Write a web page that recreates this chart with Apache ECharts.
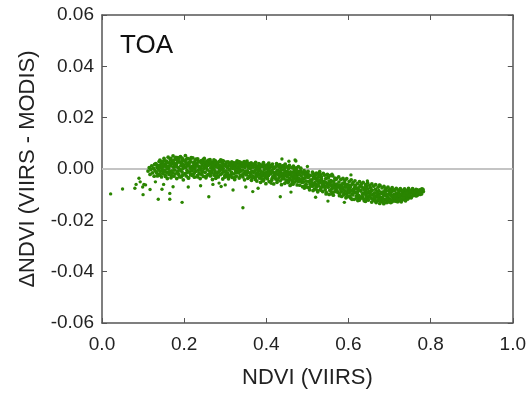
<!DOCTYPE html>
<html>
<head>
<meta charset="utf-8">
<script src="https://cdn.jsdelivr.net/npm/echarts@6/dist/echarts.min.js"></script>
<style>
  html, body { margin: 0; padding: 0; background: #fff; }
  #main { width: 529px; height: 395px; }
</style>
</head>
<body>
<div id="main"></div>
<script>
  // NDVI (VIIRS) vs delta NDVI, main cloud (left part)
  var bandLeft = [
    [0.112,-0.0008],[0.115,0.0005],[0.117,-0.0021],[0.119,-0.0002],
    [0.121,0.0012],[0.123,-0.0015],[0.125,0.0003],[0.127,-0.0028],[0.128,0.0018],[0.129,-0.0006],
    [0.131,0.0021],[0.132,-0.0012],[0.134,0.0006],[0.135,-0.0027],[0.137,0.0013],[0.138,-0.0003],[0.139,0.0029],
    [0.141,0.0034],[0.142,-0.0009],[0.143,0.0017],[0.145,-0.0031],[0.146,0.0002],[0.147,0.0026],[0.148,-0.0018],[0.149,0.0009],
    [0.151,0.0041],[0.152,-0.0005],[0.153,0.0019],[0.154,-0.0024],[0.156,0.0008],[0.157,0.0031],[0.158,-0.0013],[0.159,-0.0037],[0.155,0.0014],
    [0.161,0.0046],[0.162,0.0003],[0.163,-0.0021],[0.164,0.0025],[0.165,-0.0008],[0.166,0.0037],[0.167,0.0012],[0.168,-0.0034],[0.169,0.0019],
    [0.171,0.0029],[0.172,-0.0015],[0.173,0.0051],[0.174,0.0007],[0.175,-0.0028],[0.176,0.0022],[0.177,-0.0004],[0.178,0.0039],[0.179,0.0011],
    [0.181,0.0016],[0.182,-0.0037],[0.183,0.0034],[0.184,-0.0009],[0.185,0.0044],[0.186,0.0005],[0.187,-0.0022],[0.188,0.0027],[0.189,-0.0002],
    [0.191,0.0048],[0.192,0.0013],[0.193,-0.0031],[0.194,0.0021],[0.195,-0.0012],[0.196,0.0036],[0.197,0.0002],[0.198,-0.0042],[0.199,0.0009],
    [0.201,0.0031],[0.202,-0.0018],[0.203,0.0052],[0.204,0.0006],[0.205,-0.0027],[0.206,0.0024],[0.207,-0.0005],[0.208,0.0041],[0.209,0.0014],
    [0.211,-0.0035],[0.212,0.0019],[0.213,-0.0011],[0.214,0.0038],[0.215,0.0003],[0.216,-0.0023],[0.217,0.0028],[0.218,0.0009],[0.219,-0.0006],
    [0.221,0.0043],[0.222,0.0012],[0.223,-0.0019],[0.224,0.0025],[0.225,-0.0032],[0.226,0.0001],[0.227,0.0034],[0.228,-0.0009],[0.229,0.0017],
    [0.231,0.0022],[0.232,-0.0026],[0.233,0.0039],[0.234,-0.0004],[0.235,0.0011],[0.236,-0.0015],[0.237,0.0028],[0.238,0.0005],[0.239,-0.0037],
    [0.241,0.0008],[0.242,0.0033],[0.243,-0.0021],[0.244,0.0016],[0.245,-0.0008],[0.246,0.0026],[0.247,-0.0029],[0.248,0.0002],[0.249,0.0041],
    [0.251,-0.0013],[0.252,0.0021],[0.253,-0.0034],[0.254,0.0006],[0.255,0.0031],[0.256,-0.0003],[0.257,0.0014],[0.258,-0.0022],[0.259,0.0025],
    [0.261,0.0017],[0.262,-0.0009],[0.263,0.0036],[0.264,-0.0027],[0.265,0.0004],[0.266,0.0022],[0.267,-0.0016],[0.268,0.0011],[0.269,-0.0041],
    [0.271,0.0028],[0.272,0.0001],[0.273,-0.0024],[0.274,0.0015],[0.275,-0.0007],[0.276,0.0032],[0.277,-0.0036],[0.278,0.0008],[0.279,0.0019],
    [0.281,-0.0014],[0.282,0.0024],[0.283,-0.0031],[0.284,0.0005],[0.285,0.0029],[0.286,-0.0005],[0.287,0.0013],[0.288,-0.0022],[0.289,0.0035],
    [0.291,0.0009],[0.292,-0.0018],[0.293,0.0022],[0.294,-0.0039],[0.295,0.0002],[0.296,0.0031],[0.297,-0.0011],[0.298,0.0016],[0.299,-0.0026],
    [0.301,0.0019],[0.302,-0.0007],[0.303,0.0027],[0.304,-0.0029],[0.305,0.0006],[0.306,-0.0016],[0.307,0.0012],[0.308,-0.0038],[0.309,0.0023],
    [0.311,-0.0003],[0.312,0.0021],[0.313,-0.0024],[0.314,0.0009],[0.315,-0.0012],[0.316,0.0028],[0.317,-0.0033],[0.318,0.0003],[0.319,0.0015],
    [0.321,-0.0019],[0.322,0.0011],[0.323,-0.0041],[0.324,0.0024],[0.325,-0.0006],[0.326,0.0017],[0.327,-0.0028],[0.328,0.0004],[0.329,0.0026],
    [0.331,0.0008],[0.332,-0.0015],[0.333,0.0019],[0.334,-0.0035],[0.335,0.0001],[0.336,0.0027],[0.337,-0.0009],[0.338,0.0013],[0.339,-0.0024],
    [0.341,0.0022],[0.342,-0.0004],[0.343,-0.0031],[0.344,0.0012],[0.345,-0.0017],[0.346,0.0029],[0.347,-0.0042],[0.348,0.0006],[0.349,-0.0011],
    [0.351,0.0015],[0.352,-0.0023],[0.353,0.0031],[0.354,-0.0007],[0.355,-0.0036],[0.356,0.0009],[0.357,-0.0014],[0.358,0.0021],[0.359,-0.0029],
    [0.361,0.0003],[0.362,-0.0019],[0.363,0.0024],[0.364,-0.0044],[0.365,-0.0008],[0.366,0.0013],[0.367,-0.0027],[0.368,0.0007],[0.369,-0.0013],
    [0.371,0.0018],[0.372,-0.0032],[0.373,-0.0004],[0.374,0.0026],[0.375,-0.0021],[0.376,0.0002],[0.377,-0.0047],[0.378,0.0011],[0.379,-0.0015],
    [0.381,-0.0006],[0.382,0.0021],[0.383,-0.0035],[0.384,0.0005],[0.385,-0.0019],[0.386,-0.0052],[0.387,0.0014],[0.388,-0.0011],[0.389,-0.0028],
    [0.391,0.0009],[0.392,-0.0024],[0.393,0.0025],[0.394,-0.0041],[0.395,-0.0003],[0.396,-0.0016],[0.397,0.0012],[0.398,-0.0033],[0.399,-0.0057],
    [0.401,-0.0012],[0.402,0.0016],[0.403,-0.0038],[0.404,-0.0002],[0.405,-0.0025],[0.406,0.0023],[0.407,-0.0049],[0.408,-0.0008],[0.409,0.0004],
    [0.411,-0.0019],[0.412,0.0011],[0.413,-0.0044],[0.414,-0.0006],[0.415,0.0019],[0.416,-0.0031],[0.417,-0.0013],[0.418,-0.0058],[0.419,0.0003],
    [0.421,-0.0027],[0.422,0.0008],[0.423,-0.0039],[0.424,-0.0011],[0.425,0.0021],[0.426,-0.0052],[0.427,-0.0004],[0.428,-0.0021],[0.429,0.0014],
    [0.431,-0.0033],[0.432,-0.0008],[0.433,0.0017],[0.434,-0.0046],[0.435,-0.0015],[0.436,0.0004],[0.437,-0.0061],[0.438,-0.0024],[0.439,0.0011],
    [0.441,-0.0018],[0.442,0.0013],[0.443,-0.0037],[0.444,-0.0005],[0.445,-0.0056],[0.446,0.0019],[0.447,-0.0026],[0.448,-0.0012],[0.449,-0.0043],
    [0.451,-0.0009],[0.452,-0.0031],[0.453,0.0008],[0.454,-0.0049],[0.455,-0.0017],[0.456,0.0014],[0.457,-0.0038],[0.458,-0.0064],[0.459,-0.0022],
    [0.461,-0.0028],[0.462,0.0005],[0.463,-0.0045],[0.464,-0.0013],[0.465,-0.0059],[0.466,0.0011],[0.467,-0.0034],[0.468,-0.0007],[0.469,-0.0051],
    [0.471,-0.0017],[0.472,-0.0041],[0.473,0.0004],[0.474,-0.0026],[0.475,-0.0062],[0.476,-0.0009],[0.477,-0.0035],[0.478,0.0009],[0.479,-0.0048]
  ];

  // extra points filling the dense left core
  var bandLeftFill = [
    [0.1336,-0.0016],[0.1372,0.0009],[0.1318,0.0017],[0.1394,-0.0021],
    [0.1427,0.0006],[0.1455,0.0029],[0.1481,-0.0007],[0.1412,-0.0024],[0.1468,0.0015],
    [0.1534,-0.0011],[0.1573,0.0024],[0.1516,0.0033],[0.1589,0.0001],[0.1547,-0.0029],
    [0.1618,0.0011],[0.1643,-0.0014],[0.1676,0.0041],[0.1659,0.0019],[0.1695,-0.0026],
    [0.1706,-0.0007],[0.1738,0.0033],[0.1764,0.0015],[0.1782,-0.0019],[0.1797,0.0045],
    [0.1823,0.0023],[0.1847,-0.0015],[0.1869,0.0038],[0.1808,0.0009],[0.1891,-0.0031],
    [0.1917,-0.0005],[0.1938,0.0029],[0.1965,-0.0024],[0.1984,0.0017],[0.1952,0.0042],
    [0.2016,0.0008],[0.2043,0.0036],[0.2074,-0.0013],[0.2058,0.0019],[0.2097,-0.0034],
    [0.2125,0.0027],[0.2149,-0.0018],[0.2171,0.0044],[0.2108,0.0012],[0.2193,-0.0002],
    [0.2204,-0.0025],[0.2237,0.0021],[0.2263,0.0007],[0.2288,0.0038],[0.2251,-0.0014],
    [0.2316,0.0013],[0.2345,0.0031],[0.2372,-0.0019],[0.2397,0.0004],[0.2329,-0.0031],
    [0.2418,0.0024],[0.2443,-0.0012],[0.2469,0.0037],[0.2487,0.0011],[0.2405,-0.0004],
    [0.2526,0.0009],[0.2548,-0.0027],[0.2573,0.0017],[0.2595,0.0034],[0.2512,0.0026],
    [0.2617,-0.0021],[0.2639,0.0029],[0.2658,0.0008],[0.2684,-0.0005],[0.2696,0.0019],
    [0.2713,0.0013],[0.2746,-0.0016],[0.2768,0.0024],[0.2789,-0.0029],[0.2725,0.0035],
    [0.2827,0.0017],[0.2854,-0.0009],[0.2876,0.0031],[0.2892,0.0002],[0.2809,-0.0026],
    [0.2918,0.0026],[0.2941,-0.0006],[0.2963,0.0014],[0.2987,-0.0032],[0.2935,0.0033],
    [0.3024,0.0011],[0.3047,-0.0021],[0.3069,0.0028],[0.3092,-0.0003],[0.3013,-0.0013],
    [0.3128,0.0016],[0.3151,-0.0019],[0.3174,0.0006],[0.3196,0.0024],[0.3107,-0.0028],
    [0.3219,0.0003],[0.3246,0.0021],[0.3263,-0.0014],[0.3288,0.0032],[0.3234,-0.0033],
    [0.3314,-0.0005],[0.3342,0.0015],[0.3367,-0.0026],[0.3393,0.0023],[0.3328,0.0029],
    [0.3417,0.0009],[0.3438,-0.0021],[0.3461,0.0017],[0.3486,-0.0008],[0.3499,0.0025],
    [0.3526,-0.0012],[0.3549,0.0022],[0.3573,0.0004],[0.3591,-0.0032],[0.3508,-0.0019],
    [0.3615,0.0017],[0.3643,-0.0011],[0.3666,-0.0034],[0.3687,0.0019],[0.3624,0.0008],
    [0.3719,-0.0009],[0.3745,0.0013],[0.3768,-0.0028],[0.3791,0.0004],[0.3736,-0.0041],
    [0.3813,0.0008],[0.3838,-0.0023],[0.3864,0.0016],[0.3889,-0.0039],[0.3847,-0.0005],
    [0.3916,-0.0013],[0.3939,0.0018],[0.3962,-0.0028],[0.3987,0.0003],[0.3928,-0.0046],
    [0.4024,-0.0031],[0.4051,0.0008],[0.4073,-0.0017],[0.4096,0.0013],[0.4012,-0.0022],
    [0.4118,-0.0009],[0.4143,-0.0036],[0.4169,0.0006],[0.4188,-0.0024],[0.4132,0.0014],
    [0.4227,-0.0016],[0.4254,0.0012],[0.4276,-0.0042],[0.4298,-0.0008],[0.4212,-0.0031],
    [0.4319,0.0007],[0.4346,-0.0027],[0.4368,-0.0004],[0.4391,-0.0038],[0.4332,-0.0019],
    [0.4418,-0.0031],[0.4437,0.0004],[0.4459,-0.0018],[0.4483,-0.0047],[0.4497,0.0008],
    [0.4516,-0.0024],[0.4538,0.0002],[0.4564,-0.0042],[0.4587,-0.0011],[0.4529,-0.0053],
    [0.4618,-0.0017],[0.4646,-0.0039],[0.4669,0.0003],[0.4688,-0.0024],[0.4627,-0.0056],
    [0.4712,-0.0031],[0.4738,-0.0006],[0.4759,-0.0047],[0.4783,-0.0019],[0.4797,-0.0038]
  ];

  // right part of the cloud, sloping down towards NDVI 0.78
  var bandRight = [
    [0.4803,-0.0021],[0.4867,-0.0052],[0.4832,-0.0008],[0.4891,-0.0036],[0.4815,-0.0063],[0.4849,-0.0027],[0.4878,-0.0014],[0.4826,-0.0045],
    [0.4912,-0.0039],[0.4958,-0.0012],[0.4934,-0.0066],[0.4987,-0.0028],[0.4905,-0.0051],[0.4971,-0.0047],[0.4943,-0.0022],[0.4996,-0.0071],
    [0.5021,-0.0033],[0.5064,-0.0058],[0.5009,-0.0017],[0.5088,-0.0042],[0.5045,-0.0073],[0.5032,-0.0049],[0.5071,-0.0025],[0.5096,-0.0061],
    [0.5107,-0.0044],[0.5153,-0.0029],[0.5129,-0.0067],[0.5182,-0.0053],[0.5141,-0.0018],[0.5168,-0.0079],[0.5115,-0.0056],[0.5194,-0.0038],
    [0.5226,-0.0061],[0.5203,-0.0037],[0.5259,-0.0048],[0.5242,-0.0083],[0.5277,-0.0022],[0.5214,-0.0071],[0.5288,-0.0055],[0.5263,-0.0032],
    [0.5318,-0.0052],[0.5351,-0.0069],[0.5336,-0.0029],[0.5372,-0.0088],[0.5305,-0.0043],[0.5394,-0.0061],[0.5362,-0.0047],[0.5327,-0.0076],
    [0.5414,-0.0066],[0.5447,-0.0038],[0.5433,-0.0081],[0.5478,-0.0057],[0.5406,-0.0049],[0.5462,-0.0092],[0.5491,-0.0034],[0.5425,-0.0072],
    [0.5519,-0.0058],[0.5544,-0.0083],[0.5572,-0.0045],[0.5508,-0.0071],[0.5586,-0.0064],[0.5531,-0.0099],[0.5567,-0.0052],[0.5595,-0.0077],
    [0.5612,-0.0074],[0.5638,-0.0047],[0.5659,-0.0089],[0.5684,-0.0062],[0.5603,-0.0096],[0.5671,-0.0036],[0.5625,-0.0068],[0.5697,-0.0081],
    [0.5716,-0.0059],[0.5743,-0.0092],[0.5729,-0.0071],[0.5768,-0.0051],[0.5781,-0.0104],[0.5702,-0.0083],[0.5754,-0.0066],[0.5795,-0.0077],
    [0.5827,-0.0088],[0.5809,-0.0063],[0.5858,-0.0076],[0.5836,-0.0107],[0.5873,-0.0055],[0.5892,-0.0094],[0.5845,-0.0069],[0.5818,-0.0082],
    [0.5924,-0.0071],[0.5951,-0.0098],[0.5907,-0.0084],[0.5976,-0.0061],[0.5939,-0.0112],[0.5988,-0.0079],[0.5962,-0.0089],[0.5915,-0.0057],
    [0.6013,-0.0093],[0.6049,-0.0068],[0.6031,-0.0106],[0.6075,-0.0082],[0.6092,-0.0059],[0.6058,-0.0114],[0.6022,-0.0077],[0.6084,-0.0097],
    [0.6126,-0.0084],[0.6108,-0.0101],[0.6153,-0.0072],[0.6139,-0.0118],[0.6177,-0.0091],[0.6165,-0.0064],[0.6194,-0.0106],[0.6117,-0.0079],
    [0.6211,-0.0097],[0.6238,-0.0074],[0.6259,-0.0112],[0.6224,-0.0088],[0.6281,-0.0066],[0.6267,-0.0121],[0.6293,-0.0083],[0.6246,-0.0103],
    [0.6304,-0.0086],[0.6341,-0.0108],[0.6329,-0.0071],[0.6362,-0.0095],[0.6385,-0.0124],[0.6317,-0.0113],[0.6376,-0.0079],[0.6398,-0.0092],
    [0.6427,-0.0102],[0.6409,-0.0083],[0.6456,-0.0117],[0.6438,-0.0068],[0.6473,-0.0094],[0.6491,-0.0109],[0.6462,-0.0077],[0.6415,-0.0126],
    [0.6522,-0.0091],[0.6546,-0.0113],[0.6503,-0.0106],[0.6578,-0.0082],[0.6565,-0.0129],[0.6539,-0.0074],[0.6594,-0.0099],[0.6511,-0.0087],
    [0.6618,-0.0118],[0.6634,-0.0093],[0.6657,-0.0079],[0.6682,-0.0107],[0.6601,-0.0101],[0.6673,-0.0131],[0.6696,-0.0088],[0.6645,-0.0114],
    [0.6726,-0.0096],[0.6709,-0.0123],[0.6751,-0.0109],[0.6738,-0.0084],[0.6784,-0.0117],[0.6762,-0.0134],[0.6797,-0.0091],[0.6715,-0.0103],
    [0.6813,-0.0111],[0.6848,-0.0089],[0.6829,-0.0127],[0.6867,-0.0102],[0.6805,-0.0095],[0.6884,-0.0119],[0.6859,-0.0135],[0.6892,-0.0081],
    [0.6921,-0.0105],[0.6944,-0.0122],[0.6906,-0.0087],[0.6967,-0.0113],[0.6989,-0.0096],[0.6935,-0.0131],[0.6978,-0.0084],[0.6952,-0.0108],
    [0.7014,-0.0117],[0.7036,-0.0092],[0.7058,-0.0128],[0.7023,-0.0101],[0.7071,-0.0085],[0.7089,-0.0112],[0.7047,-0.0106],[0.7096,-0.0124],
    [0.7112,-0.0098],[0.7139,-0.0119],[0.7126,-0.0083],[0.7158,-0.0108],[0.7184,-0.0127],[0.7171,-0.0094],[0.7105,-0.0113],[0.7193,-0.0102],
    [0.7217,-0.0111],[0.7231,-0.0089],[0.7256,-0.0122],[0.7243,-0.0099],[0.7279,-0.0084],[0.7268,-0.0116],[0.7294,-0.0105],[0.7208,-0.0127],
    [0.7315,-0.0094],[0.7348,-0.0118],[0.7327,-0.0106],[0.7361,-0.0087],[0.7384,-0.0112],[0.7372,-0.0099],[0.7396,-0.0091],[0.7303,-0.0121],
    [0.7419,-0.0107],[0.7436,-0.0085],[0.7452,-0.0114],[0.7478,-0.0096],[0.7465,-0.0081],[0.7491,-0.0109],[0.7428,-0.0098],[0.7487,-0.0088],
    [0.7512,-0.0092],[0.7538,-0.0106],[0.7547,-0.0083],[0.7569,-0.0099],[0.7581,-0.0088],[0.7524,-0.0112],[0.7593,-0.0094],[0.7556,-0.0079],
    [0.7614,-0.0097],[0.7632,-0.0084],[0.7658,-0.0091],[0.7676,-0.0102],[0.7689,-0.0087],[0.7645,-0.0079],[0.7697,-0.0095],
    [0.7711,-0.0089],[0.7735,-0.0081],[0.7752,-0.0094],[0.7768,-0.0085],[0.7786,-0.0078],[0.7744,-0.0099],
    [0.7803,-0.0083],[0.7821,-0.0088]
  ];

  // extra points widening the right part upwards and downwards
  var bandRightFill = [
    [0.4821,-0.0011],[0.4858,-0.0041],[0.4884,-0.0069],[0.4839,0.0003],[0.4897,-0.0019],
    [0.4918,-0.0006],[0.4947,-0.0034],[0.4969,-0.0059],[0.4983,-0.0015],[0.4926,-0.0074],
    [0.5017,-0.0009],[0.5041,-0.0027],[0.5068,-0.0046],[0.5083,-0.0066],[0.5053,-0.0081],
    [0.5124,-0.0012],[0.5147,-0.0035],[0.5176,-0.0062],[0.5191,-0.0025],[0.5138,-0.0084],
    [0.5218,-0.0016],[0.5236,-0.0043],[0.5271,-0.0066],[0.5295,-0.0012],[0.5252,-0.0089],
    [0.5312,-0.0021],[0.5344,-0.0038],[0.5369,-0.0058],[0.5387,-0.0017],[0.5323,-0.0082],
    [0.5419,-0.0024],[0.5441,-0.0052],[0.5468,-0.0069],[0.5486,-0.0021],[0.5455,-0.0097],
    [0.5513,-0.0033],[0.5538,-0.0061],[0.5562,-0.0025],[0.5584,-0.0089],[0.5527,-0.0047],
    [0.5617,-0.0027],[0.5646,-0.0056],[0.5668,-0.0073],[0.5689,-0.0041],[0.5631,-0.0102],
    [0.5712,-0.0038],[0.5739,-0.0065],[0.5762,-0.0031],[0.5787,-0.0095],[0.5724,-0.0086],
    [0.5815,-0.0041],[0.5842,-0.0071],[0.5867,-0.0037],[0.5881,-0.0101],[0.5853,-0.0058],
    [0.5912,-0.0045],[0.5933,-0.0064],[0.5957,-0.0038],[0.5979,-0.0108],[0.5994,-0.0073],
    [0.6018,-0.0049],[0.6041,-0.0087],[0.6066,-0.0042],[0.6087,-0.0118],[0.6029,-0.0064],
    [0.6112,-0.0053],[0.6134,-0.0092],[0.6158,-0.0046],[0.6181,-0.0076],[0.6199,-0.0113],
    [0.6217,-0.0057],[0.6243,-0.0081],[0.6268,-0.0049],[0.6286,-0.0109],[0.6229,-0.0123],
    [0.6311,-0.0059],[0.6338,-0.0097],[0.6357,-0.0052],[0.6379,-0.0118],[0.6392,-0.0074],
    [0.6414,-0.0061],[0.6446,-0.0089],[0.6467,-0.0055],[0.6484,-0.0121],[0.6432,-0.0111],
    [0.6518,-0.0064],[0.6542,-0.0101],[0.6569,-0.0058],[0.6587,-0.0117],[0.6553,-0.0086],
    [0.6613,-0.0067],[0.6639,-0.0124],[0.6662,-0.0061],[0.6688,-0.0096],[0.6624,-0.0109],
    [0.6721,-0.0071],[0.6744,-0.0105],[0.6767,-0.0064],[0.6789,-0.0127],[0.6732,-0.0118],
    [0.6817,-0.0073],[0.6838,-0.0114],[0.6864,-0.0068],[0.6879,-0.0131],[0.6853,-0.0098],
    [0.6915,-0.0076],[0.6938,-0.0116],[0.6962,-0.0071],[0.6984,-0.0128],[0.6927,-0.0099],
    [0.7018,-0.0079],[0.7043,-0.0121],[0.7064,-0.0073],[0.7085,-0.0104],[0.7029,-0.0131],
    [0.7116,-0.0081],[0.7142,-0.0125],[0.7163,-0.0076],[0.7188,-0.0117],[0.7131,-0.0106],
    [0.7214,-0.0082],[0.7247,-0.0118],[0.7262,-0.0077],[0.7285,-0.0128],[0.7239,-0.0103],
    [0.7319,-0.0083],[0.7342,-0.0113],[0.7366,-0.0078],[0.7389,-0.0124],[0.7357,-0.0101],
    [0.7413,-0.0084],[0.7441,-0.0117],[0.7462,-0.0076],[0.7483,-0.0103],[0.7426,-0.0092],
    [0.7518,-0.0086],[0.7534,-0.0109],[0.7561,-0.0077],[0.7589,-0.0103],[0.7573,-0.0091],
    [0.7621,-0.0088],[0.7649,-0.0105],[0.7668,-0.0081],[0.7684,-0.0098],
    [0.7727,-0.0091],[0.7759,-0.0083],[0.7779,-0.0097],[0.7812,-0.0079]
  ];

  // scattered points away from the main cloud
  var outlierPoints = [
    [0.021,-0.0097],[0.050,-0.0078],[0.080,-0.0075],[0.083,-0.0060],[0.090,-0.0036],[0.093,-0.0050],
    [0.100,-0.0100],[0.102,-0.0060],[0.106,-0.0062],[0.099,-0.0070],[0.117,-0.0080],[0.137,-0.0118],
    [0.146,-0.0079],[0.165,-0.0118],[0.165,-0.0095],[0.195,-0.0130],[0.173,-0.0069],[0.130,-0.0050],
    [0.150,-0.0060],[0.210,-0.0070],[0.240,-0.0065],[0.270,-0.0060],[0.260,-0.0108],[0.285,-0.0055],
    [0.290,-0.0068],[0.300,-0.0062],[0.319,-0.0082],[0.343,-0.0151],[0.350,-0.0070],[0.367,-0.0088],
    [0.380,-0.0075],[0.412,-0.0056],[0.434,-0.0108],[0.438,0.0039],[0.455,0.0030],[0.470,0.0035],
    [0.472,0.0031],[0.460,-0.0090],[0.500,0.0010],[0.520,-0.0110],[0.530,-0.0010],[0.550,-0.0125],
    [0.560,-0.0020],[0.590,-0.0130],[0.606,-0.0023],[0.646,-0.0047],[0.675,-0.0062]
  ];

  var zeroLine = [[0, 0], [1, 0]];

  var fontFamily = '"Liberation Sans", Arial, sans-serif';
  var chart = echarts.init(document.getElementById('main'));

  var tickStyle = { show: true, inside: true, length: 5, lineStyle: { color: '#555', width: 1 } };
  var lineStyle = { show: true, onZero: false, lineStyle: { color: '#555', width: 1.5 } };
  var dotStyle = { color: '#2a8500', opacity: 1 };

  chart.setOption({
    animation: false,
    backgroundColor: '#fff',
    grid: { left: 102, right: 15, top: 15, bottom: 72 },
    title: {
      text: 'TOA',
      left: 115,
      top: 28,
      textStyle: { fontFamily: fontFamily, fontSize: 26, fontWeight: 'normal', color: '#111' }
    },
    xAxis: [
      {
        type: 'value', min: 0, max: 1, interval: 0.2, position: 'bottom',
        name: 'NDVI (VIIRS)', nameLocation: 'middle', nameGap: 44,
        nameTextStyle: { fontFamily: fontFamily, fontSize: 22, color: '#222' },
        axisLine: lineStyle, axisTick: tickStyle, splitLine: { show: false },
        axisLabel: {
          margin: 12, fontFamily: fontFamily, fontSize: 19, color: '#222',
          formatter: function (v) { return v.toFixed(1); }
        }
      },
      {
        type: 'value', min: 0, max: 1, interval: 0.2, position: 'top',
        axisLine: lineStyle, axisTick: tickStyle, splitLine: { show: false },
        axisLabel: { show: false }
      }
    ],
    yAxis: [
      {
        type: 'value', min: -0.06, max: 0.06, interval: 0.02, position: 'left',
        name: '\u0394NDVI (VIIRS - MODIS)', nameLocation: 'middle', nameGap: 63,
        nameTextStyle: { fontFamily: fontFamily, fontSize: 22, color: '#222' },
        axisLine: lineStyle, axisTick: tickStyle, splitLine: { show: false },
        axisLabel: {
          margin: 8, fontFamily: fontFamily, fontSize: 19, color: '#222',
          formatter: function (v) { return v.toFixed(2); }
        }
      },
      {
        type: 'value', min: -0.06, max: 0.06, interval: 0.02, position: 'right',
        axisLine: lineStyle, axisTick: tickStyle, splitLine: { show: false },
        axisLabel: { show: false }
      }
    ],
    series: [
      {
        type: 'line', data: zeroLine, symbol: 'none', silent: true, z: 1,
        lineStyle: { color: '#c4c4c4', width: 2 }
      },
      { type: 'scatter', data: bandLeft, symbolSize: 3.8, z: 3, itemStyle: dotStyle },
      { type: 'scatter', data: bandLeftFill, symbolSize: 3.8, z: 3, itemStyle: dotStyle },
      { type: 'scatter', data: bandRight, symbolSize: 3.8, z: 3, itemStyle: dotStyle },
      { type: 'scatter', data: bandRightFill, symbolSize: 3.8, z: 3, itemStyle: dotStyle },
      { type: 'scatter', data: outlierPoints, symbolSize: 3.4, z: 3, itemStyle: dotStyle }
    ]
  });
</script>
</body>
</html>
